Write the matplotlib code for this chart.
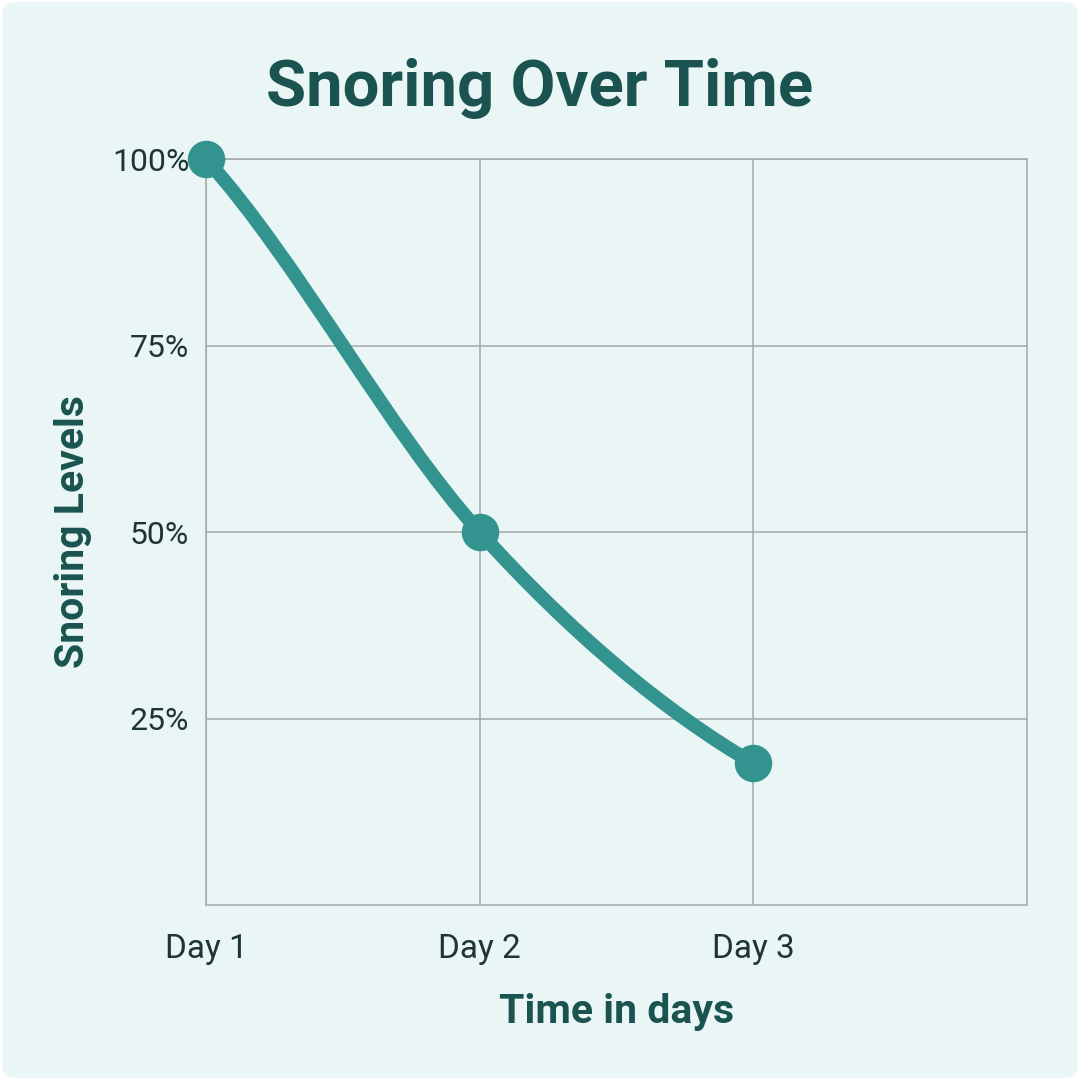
import matplotlib.pyplot as plt
import numpy as np
from matplotlib.patches import FancyBboxPatch, PathPatch
from matplotlib.path import Path

# data
days = ["Day 1", "Day 2", "Day 3"]
snoring = [100, 50, 19]
y_ticks = [25, 50, 75, 100]
y_tick_labels = ["25%", "50%", "75%", "100%"]

BG = "#eaf6f5"
LINE = "#33948f"
TITLE = "#1a5350"
TICK = "#1e3535"
GRID = "#a4a9a8"

plt.rcParams["font.family"] = ["Roboto", "DejaVu Sans"]


def smooth_path(xs, ys):
    """Cubic bezier through the points (catmull-rom style tangents)."""
    xs = np.asarray(xs, dtype=float)
    ys = np.asarray(ys, dtype=float)
    n = len(xs)
    m = np.zeros(n)
    for i in range(1, n - 1):
        m[i] = (ys[i + 1] - ys[i - 1]) / (xs[i + 1] - xs[i - 1])
    m[0] = m[1]
    m[-1] = 2 * (ys[-1] - ys[-2]) / (xs[-1] - xs[-2]) - m[-2]
    verts = [(xs[0], ys[0])]
    codes = [Path.MOVETO]
    for i in range(n - 1):
        h = xs[i + 1] - xs[i]
        verts += [(xs[i] + h / 3, ys[i] + m[i] * h / 3),
                  (xs[i + 1] - h / 3, ys[i + 1] - m[i + 1] * h / 3),
                  (xs[i + 1], ys[i + 1])]
        codes += [Path.CURVE4] * 3
    return Path(verts, codes)


fig = plt.figure(figsize=(10.8, 10.8), dpi=100)
fig.patch.set_facecolor("white")
fig.patches.append(FancyBboxPatch((0.002, 0.002), 0.996, 0.996,
                                  boxstyle="round,pad=0,rounding_size=0.012",
                                  transform=fig.transFigure, facecolor=BG,
                                  edgecolor="none", zorder=-10))

ax = fig.add_axes([0.1907, 0.162, 0.7602, 0.6907])
ax.set_facecolor(BG)
x = np.arange(len(days))

ax.add_patch(PathPatch(smooth_path(x, snoring), fill=False, edgecolor=LINE,
                       lw=10, capstyle="round", joinstyle="round", zorder=3))
ax.plot(x, snoring, "o", color=LINE, markersize=26, zorder=4, clip_on=False)

ax.set_xlim(0, 3)
ax.set_ylim(0, 100)
ax.set_xticks(x)
ax.set_xticklabels(days)
ax.set_yticks(y_ticks)
ax.set_yticklabels(y_tick_labels)
ax.tick_params(axis="both", length=0, labelsize=23, colors=TICK)
ax.tick_params(axis="x", labelsize=24, pad=20)
ax.tick_params(axis="y", pad=12)
ax.grid(True, color=GRID, lw=1.1)
ax.set_axisbelow(True)
for s in ax.spines.values():
    s.set_color(GRID)
    s.set_linewidth(1.1)

ax.set_xlabel("Time in days", fontsize=29.5, fontweight="bold", color=TITLE, labelpad=20)
ax.set_ylabel("Snoring Levels", fontsize=29.5, fontweight="bold", color=TITLE, labelpad=14)
fig.text(0.5, 0.918, "Snoring Over Time", ha="center", va="center",
         fontsize=47, fontweight="bold", color=TITLE)

fig.savefig("out.png", dpi=100, facecolor=fig.get_facecolor())
